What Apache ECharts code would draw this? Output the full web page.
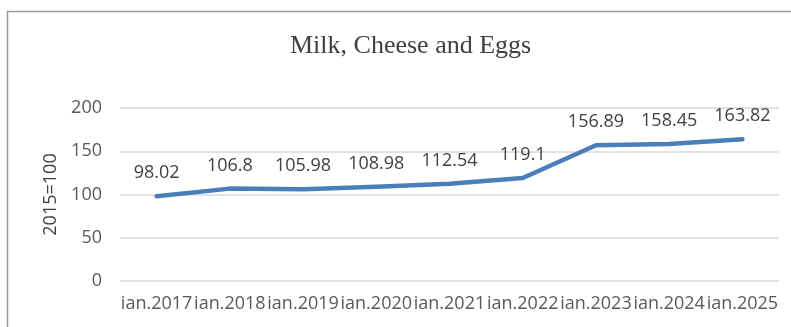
<!DOCTYPE html>
<html><head><meta charset="utf-8">
<script src="https://cdn.jsdelivr.net/npm/echarts@6/dist/echarts.min.js"></script>
<style>html,body{margin:0;padding:0;background:#fff}#c{width:791px;height:327px}</style>
</head><body><div id="c"></div>
<script>
const categories = ["ian.2017","ian.2018","ian.2019","ian.2020","ian.2021","ian.2022","ian.2023","ian.2024","ian.2025"];
const values = [98.02,106.8,105.98,108.98,112.54,119.1,156.89,158.45,163.82];
const yTicks = [0,50,100,150,200];
const titleText = "Milk, Cheese and Eggs";
const yName = "2015=100";

const chart = echarts.init(document.getElementById('c'));
chart.setOption({
  animation:false,
  graphic:[{type:'rect',shape:{x:7.5,y:11.5,width:900,height:400},style:{fill:'none',stroke:'#9a9a9a',lineWidth:1.5},silent:true}],
  title:{text:titleText,left:285,top:28,textStyle:{fontFamily:'Liberation Serif',fontWeight:'normal',fontSize:26,color:'#404040'}},
  grid:{left:120,right:12,top:108,bottom:46,containLabel:false},
  xAxis:{type:'category',data:categories,boundaryGap:true,
    axisLine:{show:false},axisTick:{show:false},
    axisLabel:{fontFamily:'Open Sans',fontSize:18,color:'#595959',margin:14,interval:0}},
  yAxis:{type:'value',min:yTicks[0],max:yTicks[yTicks.length-1],interval:50,
    name:yName,nameLocation:'middle',nameGap:56,nameRotate:90,
    nameTextStyle:{fontFamily:'Open Sans',fontSize:18,color:'#404040'},
    axisLine:{show:false},axisTick:{show:false},
    axisLabel:{fontFamily:'Open Sans',fontSize:18,color:'#595959',margin:18},
    splitLine:{lineStyle:{color:'#d9d9d9',width:1.5}}},
  series:[{type:'line',data:values,symbol:'circle',symbolSize:2,showSymbol:true,showAllSymbol:true,smooth:false,
    itemStyle:{color:'#4a7ebb'},
    lineStyle:{color:'#4a7ebb',width:4.5,cap:'round',join:'round'},
    label:{show:true,position:'top',distance:13,fontFamily:'Open Sans',fontSize:18,color:'#404040'},
    labelLayout:{hideOverlap:false}}]
});
</script></body></html>
